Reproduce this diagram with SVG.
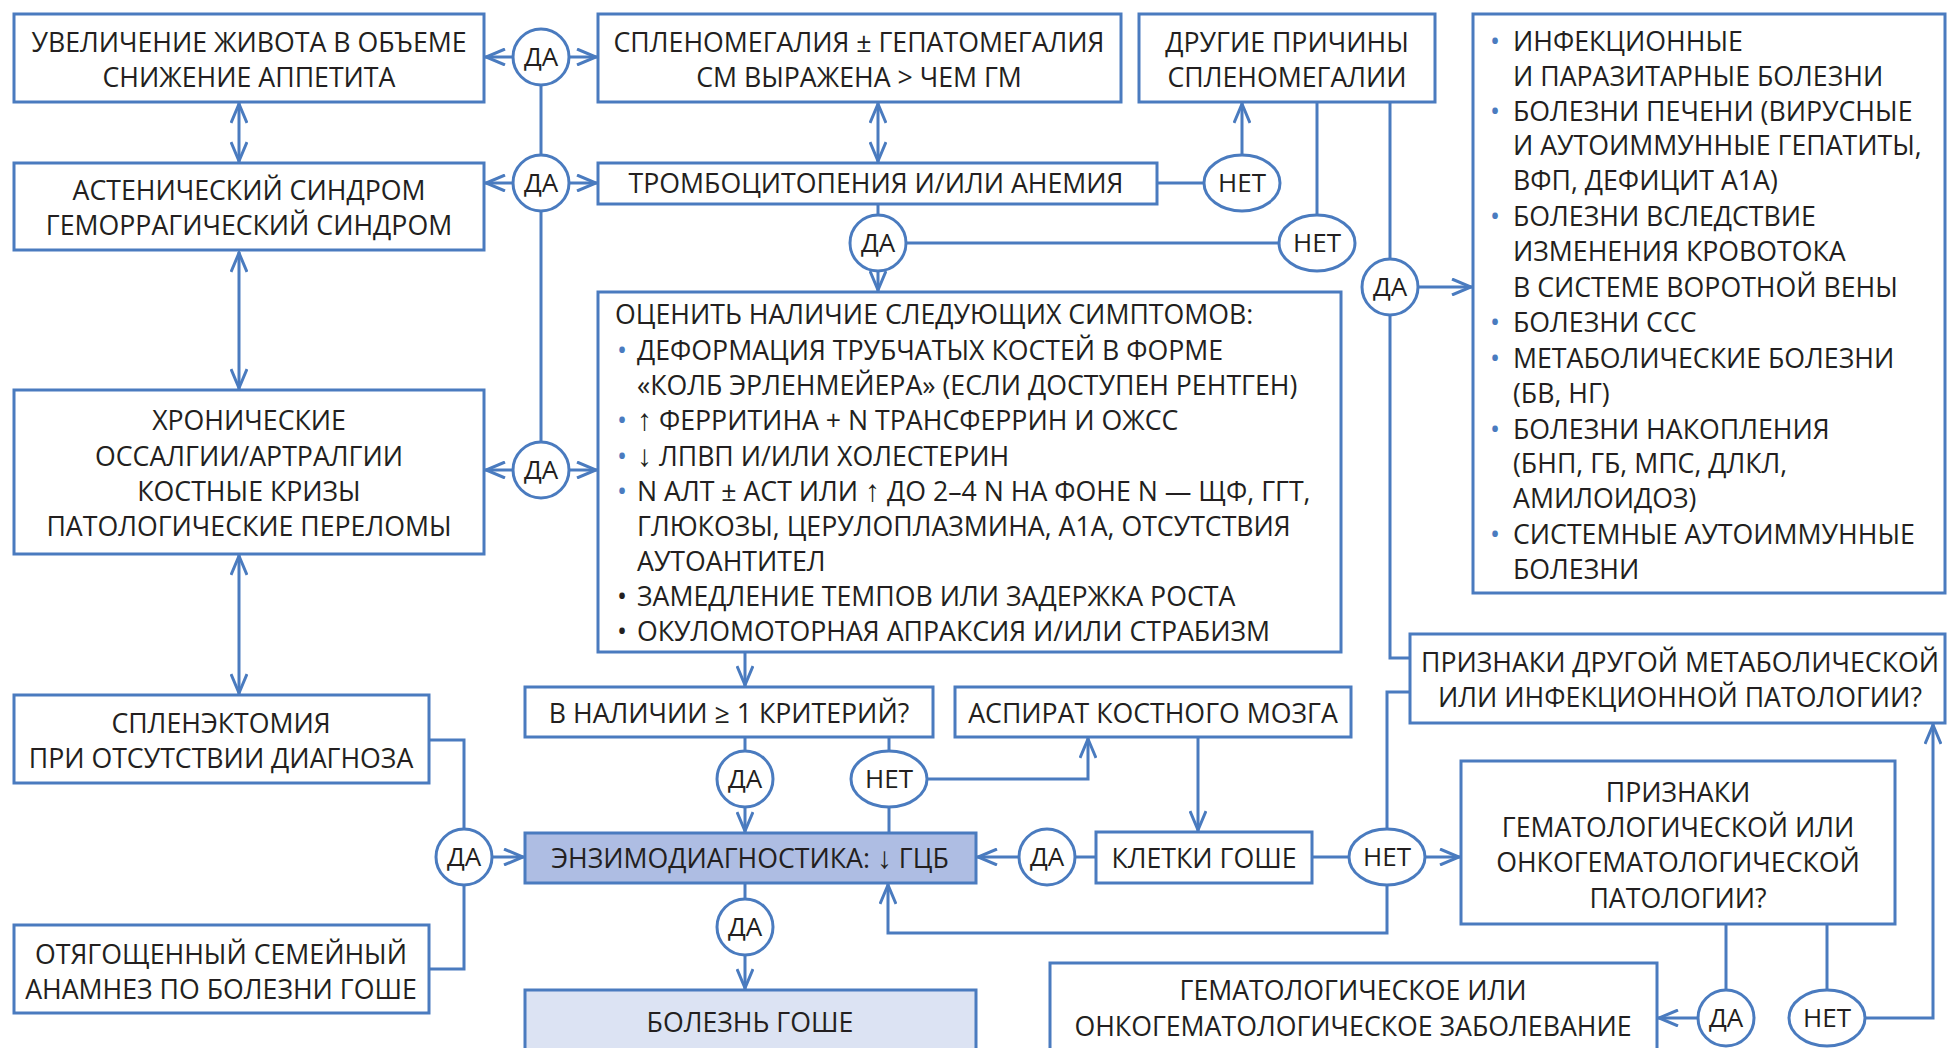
<svg xmlns="http://www.w3.org/2000/svg" width="1948" height="1048" viewBox="0 0 1948 1048">
  <style>
    .box { fill: #ffffff; stroke: #4a7bbf; stroke-width: 3; }
    .enz { fill: #aebde3; stroke: #4a7bbf; stroke-width: 3; }
    .res { fill: #dce3f3; stroke: #4a7bbf; stroke-width: 3; }
    .dec { fill: #ffffff; stroke: #4a7bbf; stroke-width: 3; }
    .ln  { fill: none; stroke: #4a7bbf; stroke-width: 3; }
    .arr { marker-end: url(#ah); }
    .bi  { marker-end: url(#ah); marker-start: url(#ahs); }
    text { font-family: "Open Sans", "Noto Sans", "DejaVu Sans", sans-serif; font-size: 26.7px; fill: #231f20; }
    .c { text-anchor: middle; }
    .d { font-size: 26px; text-anchor: middle; }
    .bl { fill: #4a7bbf; }
    .sym { font-family: "Liberation Sans", "DejaVu Sans", sans-serif; font-size: 30px; }
  </style>
  <defs>
    <marker id="ah" viewBox="0 0 22 18" refX="21" refY="9" markerWidth="22" markerHeight="18" markerUnits="userSpaceOnUse" orient="auto">
      <path d="M1,1 L20,9 L1,17" fill="none" stroke="#4a7bbf" stroke-width="3"/>
    </marker>
    <marker id="ahs" viewBox="0 0 22 18" refX="21" refY="9" markerWidth="22" markerHeight="18" markerUnits="userSpaceOnUse" orient="auto-start-reverse">
      <path d="M1,1 L20,9 L1,17" fill="none" stroke="#4a7bbf" stroke-width="3"/>
    </marker>
  </defs>

  <!-- connectors -->
  <g id="connectors">
    <!-- left column yes-branches -->
    <path class="ln arr" d="M513,57 H485"/>
    <path class="ln arr" d="M569,57 H597"/>
    <path class="ln" d="M541,85 V155"/>
    <path class="ln arr" d="M513,183 H485"/>
    <path class="ln arr" d="M569,183 H597"/>
    <path class="ln" d="M541,211 V442"/>
    <path class="ln arr" d="M513,470 H485"/>
    <path class="ln arr" d="M569,470 H597"/>
    <!-- two-way links between symptom boxes -->
    <path class="ln bi" d="M239,103 V162"/>
    <path class="ln bi" d="M239,252 V389"/>
    <path class="ln bi" d="M239,555 V694"/>
    <path class="ln bi" d="M878,103 V162"/>
    <!-- thrombocytopenia branches -->
    <path class="ln" d="M1157,183 H1204"/>
    <path class="ln arr" d="M1242,155 V103"/>
    <path class="ln" d="M878,204 V215"/>
    <path class="ln arr" d="M878,271 V291"/>
    <path class="ln" d="M906,243 H1279"/>
    <path class="ln" d="M1317,102 V215"/>
    <path class="ln" d="M1390,102 V259"/>
    <path class="ln arr" d="M1418,287 H1472"/>
    <path class="ln" d="M1390,315 V658 H1410"/>
    <!-- criteria -->
    <path class="ln arr" d="M745,652 V686"/>
    <path class="ln" d="M745,737 V751"/>
    <path class="ln arr" d="M745,807 V832"/>
    <path class="ln" d="M889,737 V751"/>
    <path class="ln" d="M889,807 V833"/>
    <path class="ln arr" d="M927,779 H1088 V738"/>
    <path class="ln arr" d="M1198,737 V831"/>
    <!-- Gaucher cells -->
    <path class="ln" d="M1096,857 H1075"/>
    <path class="ln arr" d="M1019,857 H977"/>
    <path class="ln" d="M1312,857 H1349"/>
    <path class="ln arr" d="M1425,857 H1460"/>
    <path class="ln" d="M1387,829 V692 H1410"/>
    <path class="ln arr" d="M1387,885 V933 H888 V884"/>
    <!-- enzyme diagnostics -->
    <path class="ln" d="M745,883 V899"/>
    <path class="ln arr" d="M745,955 V989"/>
    <!-- splenectomy / family history -->
    <path class="ln" d="M429,740 H464 V829"/>
    <path class="ln" d="M429,969 H464 V885"/>
    <path class="ln arr" d="M492,857 H524"/>
    <!-- haematological branch -->
    <path class="ln" d="M1726,924 V990"/>
    <path class="ln arr" d="M1698,1018 H1658"/>
    <path class="ln" d="M1827,924 V990"/>
    <path class="ln arr" d="M1865,1018 H1933 V724"/>
  </g>

  <!-- decision markers -->
  <g id="da1"><ellipse class="dec" cx="541" cy="57" rx="28" ry="28"/><text class="d" x="541" y="66">ДА</text></g>
  <g id="da2"><ellipse class="dec" cx="541" cy="183" rx="28" ry="28"/><text class="d" x="541" y="192">ДА</text></g>
  <g id="da3"><ellipse class="dec" cx="541" cy="470" rx="28" ry="28"/><text class="d" x="541" y="479">ДА</text></g>
  <g id="net1"><ellipse class="dec" cx="1242" cy="183" rx="38" ry="28"/><text class="d" x="1242" y="192">НЕТ</text></g>
  <g id="da4"><ellipse class="dec" cx="878" cy="243" rx="28" ry="28"/><text class="d" x="878" y="252">ДА</text></g>
  <g id="net2"><ellipse class="dec" cx="1317" cy="243" rx="38" ry="28"/><text class="d" x="1317" y="252">НЕТ</text></g>
  <g id="da5"><ellipse class="dec" cx="1390" cy="287" rx="28" ry="28"/><text class="d" x="1390" y="296">ДА</text></g>
  <g id="da6"><ellipse class="dec" cx="745" cy="779" rx="28" ry="28"/><text class="d" x="745" y="788">ДА</text></g>
  <g id="net3"><ellipse class="dec" cx="889" cy="779" rx="38" ry="28"/><text class="d" x="889" y="788">НЕТ</text></g>
  <g id="da7"><ellipse class="dec" cx="464" cy="857" rx="28" ry="28"/><text class="d" x="464" y="866">ДА</text></g>
  <g id="da8"><ellipse class="dec" cx="1047" cy="857" rx="28" ry="28"/><text class="d" x="1047" y="866">ДА</text></g>
  <g id="net4"><ellipse class="dec" cx="1387" cy="857" rx="38" ry="28"/><text class="d" x="1387" y="866">НЕТ</text></g>
  <g id="da9"><ellipse class="dec" cx="745" cy="927" rx="28" ry="28"/><text class="d" x="745" y="936">ДА</text></g>
  <g id="da10"><ellipse class="dec" cx="1726" cy="1018" rx="28" ry="28"/><text class="d" x="1726" y="1027">ДА</text></g>
  <g id="net5"><ellipse class="dec" cx="1827" cy="1018" rx="38" ry="28"/><text class="d" x="1827" y="1027">НЕТ</text></g>

  <!-- boxes -->
  <g id="abdomen">
    <rect class="box" x="14" y="14" width="470" height="88"/>
    <text class="c" x="249" y="52">УВЕЛИЧЕНИЕ ЖИВОТА В ОБЪЕМЕ</text>
    <text class="c" x="249" y="87">СНИЖЕНИЕ АППЕТИТА</text>
  </g>
  <g id="asthenic">
    <rect class="box" x="14" y="163" width="470" height="87"/>
    <text class="c" x="249" y="200">АСТЕНИЧЕСКИЙ СИНДРОМ</text>
    <text class="c" x="249" y="235">ГЕМОРРАГИЧЕСКИЙ СИНДРОМ</text>
  </g>
  <g id="bones">
    <rect class="box" x="14" y="390" width="470" height="164"/>
    <text class="c" x="249" y="430">ХРОНИЧЕСКИЕ</text>
    <text class="c" x="249" y="466">ОССАЛГИИ/АРТРАЛГИИ</text>
    <text class="c" x="249" y="501">КОСТНЫЕ КРИЗЫ</text>
    <text class="c" x="249" y="536">ПАТОЛОГИЧЕСКИЕ ПЕРЕЛОМЫ</text>
  </g>
  <g id="splenectomy">
    <rect class="box" x="14" y="695" width="415" height="88"/>
    <text class="c" x="221" y="733">СПЛЕНЭКТОМИЯ</text>
    <text class="c" x="221" y="768">ПРИ ОТСУТСТВИИ ДИАГНОЗА</text>
  </g>
  <g id="family">
    <rect class="box" x="14" y="925" width="415" height="88"/>
    <text class="c" x="221" y="964">ОТЯГОЩЕННЫЙ СЕМЕЙНЫЙ</text>
    <text class="c" x="221" y="999">АНАМНЕЗ ПО БОЛЕЗНИ ГОШЕ</text>
  </g>
  <g id="splenomegaly">
    <rect class="box" x="598" y="14" width="523" height="88"/>
    <text class="c" x="859" y="52">СПЛЕНОМЕГАЛИЯ ± ГЕПАТОМЕГАЛИЯ</text>
    <text class="c" x="859" y="87">СМ ВЫРАЖЕНА &gt; ЧЕМ ГМ</text>
  </g>
  <g id="other-causes">
    <rect class="box" x="1139" y="14" width="296" height="88"/>
    <text class="c" x="1287" y="52">ДРУГИЕ ПРИЧИНЫ</text>
    <text class="c" x="1287" y="87">СПЛЕНОМЕГАЛИИ</text>
  </g>
  <g id="cytopenia">
    <rect class="box" x="598" y="163" width="559" height="41"/>
    <text class="c" x="876" y="193">ТРОМБОЦИТОПЕНИЯ И/ИЛИ АНЕМИЯ</text>
  </g>
  <g id="other-list">
    <rect class="box" x="1473" y="14" width="472" height="579"/>
    <text class="bl" x="1490" y="51">•</text><text x="1513" y="51">ИНФЕКЦИОННЫЕ</text>
    <text x="1513" y="86">И ПАРАЗИТАРНЫЕ БОЛЕЗНИ</text>
    <text class="bl" x="1490" y="121">•</text><text x="1513" y="121">БОЛЕЗНИ ПЕЧЕНИ (ВИРУСНЫЕ</text>
    <text x="1513" y="155">И АУТОИММУННЫЕ ГЕПАТИТЫ,</text>
    <text x="1513" y="190">ВФП, ДЕФИЦИТ А1А)</text>
    <text class="bl" x="1490" y="226">•</text><text x="1513" y="226">БОЛЕЗНИ ВСЛЕДСТВИЕ</text>
    <text x="1513" y="261">ИЗМЕНЕНИЯ КРОВОТОКА</text>
    <text x="1513" y="297">В СИСТЕМЕ ВОРОТНОЙ ВЕНЫ</text>
    <text class="bl" x="1490" y="332">•</text><text x="1513" y="332">БОЛЕЗНИ ССС</text>
    <text class="bl" x="1490" y="368">•</text><text x="1513" y="368">МЕТАБОЛИЧЕСКИЕ БОЛЕЗНИ</text>
    <text x="1513" y="403">(БВ, НГ)</text>
    <text class="bl" x="1490" y="439">•</text><text x="1513" y="439">БОЛЕЗНИ НАКОПЛЕНИЯ</text>
    <text x="1513" y="473">(БНП, ГБ, МПС, ДЛКЛ,</text>
    <text x="1513" y="508">АМИЛОИДОЗ)</text>
    <text class="bl" x="1490" y="544">•</text><text x="1513" y="544">СИСТЕМНЫЕ АУТОИММУННЫЕ</text>
    <text x="1513" y="579">БОЛЕЗНИ</text>
  </g>
  <g id="assess">
    <rect class="box" x="598" y="292" width="743" height="360"/>
    <text x="615" y="324">ОЦЕНИТЬ НАЛИЧИЕ СЛЕДУЮЩИХ СИМПТОМОВ:</text>
    <text class="bl" x="617" y="360">•</text><text x="637" y="360">ДЕФОРМАЦИЯ ТРУБЧАТЫХ КОСТЕЙ В ФОРМЕ</text>
    <text x="637" y="395">«КОЛБ ЭРЛЕНМЕЙЕРА» (ЕСЛИ ДОСТУПЕН РЕНТГЕН)</text>
    <text class="bl" x="617" y="430">•</text><text x="637" y="430"><tspan class="sym">↑</tspan> ФЕРРИТИНА + N ТРАНСФЕРРИН И ОЖСС</text>
    <text class="bl" x="617" y="466">•</text><text x="637" y="466"><tspan class="sym">↓</tspan> ЛПВП И/ИЛИ ХОЛЕСТЕРИН</text>
    <text class="bl" x="617" y="501">•</text><text x="637" y="501">N АЛТ ± АСТ ИЛИ <tspan class="sym">↑</tspan> ДО 2–4 N НА ФОНЕ N — ЩФ, ГГТ,</text>
    <text x="637" y="536">ГЛЮКОЗЫ, ЦЕРУЛОПЛАЗМИНА, А1А, ОТСУТСТВИЯ</text>
    <text x="637" y="571">АУТОАНТИТЕЛ</text>
    <text x="617" y="606">•</text><text x="637" y="606">ЗАМЕДЛЕНИЕ ТЕМПОВ ИЛИ ЗАДЕРЖКА РОСТА</text>
    <text x="617" y="641">•</text><text x="637" y="641">ОКУЛОМОТОРНАЯ АПРАКСИЯ И/ИЛИ СТРАБИЗМ</text>
  </g>
  <g id="criteria">
    <rect class="box" x="525" y="687" width="408" height="50"/>
    <text class="c" x="729" y="723">В НАЛИЧИИ ≥ 1 КРИТЕРИЙ?</text>
  </g>
  <g id="aspirate">
    <rect class="box" x="955" y="687" width="396" height="50"/>
    <text class="c" x="1153" y="723">АСПИРАТ КОСТНОГО МОЗГА</text>
  </g>
  <g id="enzyme">
    <rect class="enz" x="525" y="833" width="451" height="50"/>
    <text class="c" x="750" y="868">ЭНЗИМОДИАГНОСТИКА: <tspan class="sym">↓</tspan> ГЦБ</text>
  </g>
  <g id="gaucher-cells">
    <rect class="box" x="1096" y="832" width="216" height="51"/>
    <text class="c" x="1204" y="868">КЛЕТКИ ГОШЕ</text>
  </g>
  <g id="gaucher">
    <rect class="res" x="525" y="990" width="451" height="70"/>
    <text class="c" x="750" y="1032">БОЛЕЗНЬ ГОШЕ</text>
  </g>
  <g id="metabolic">
    <rect class="box" x="1410" y="634" width="535" height="89"/>
    <text class="c" x="1680" y="672">ПРИЗНАКИ ДРУГОЙ МЕТАБОЛИЧЕСКОЙ</text>
    <text class="c" x="1680" y="707">ИЛИ ИНФЕКЦИОННОЙ ПАТОЛОГИИ?</text>
  </g>
  <g id="haem-signs">
    <rect class="box" x="1461" y="761" width="434" height="163"/>
    <text class="c" x="1678" y="802">ПРИЗНАКИ</text>
    <text class="c" x="1678" y="837">ГЕМАТОЛОГИЧЕСКОЙ ИЛИ</text>
    <text class="c" x="1678" y="872">ОНКОГЕМАТОЛОГИЧЕСКОЙ</text>
    <text class="c" x="1678" y="908">ПАТОЛОГИИ?</text>
  </g>
  <g id="haem-disease">
    <rect class="box" x="1050" y="963" width="607" height="100"/>
    <text class="c" x="1353" y="1000">ГЕМАТОЛОГИЧЕСКОЕ ИЛИ</text>
    <text class="c" x="1353" y="1036">ОНКОГЕМАТОЛОГИЧЕСКОЕ ЗАБОЛЕВАНИЕ</text>
  </g>
</svg>
